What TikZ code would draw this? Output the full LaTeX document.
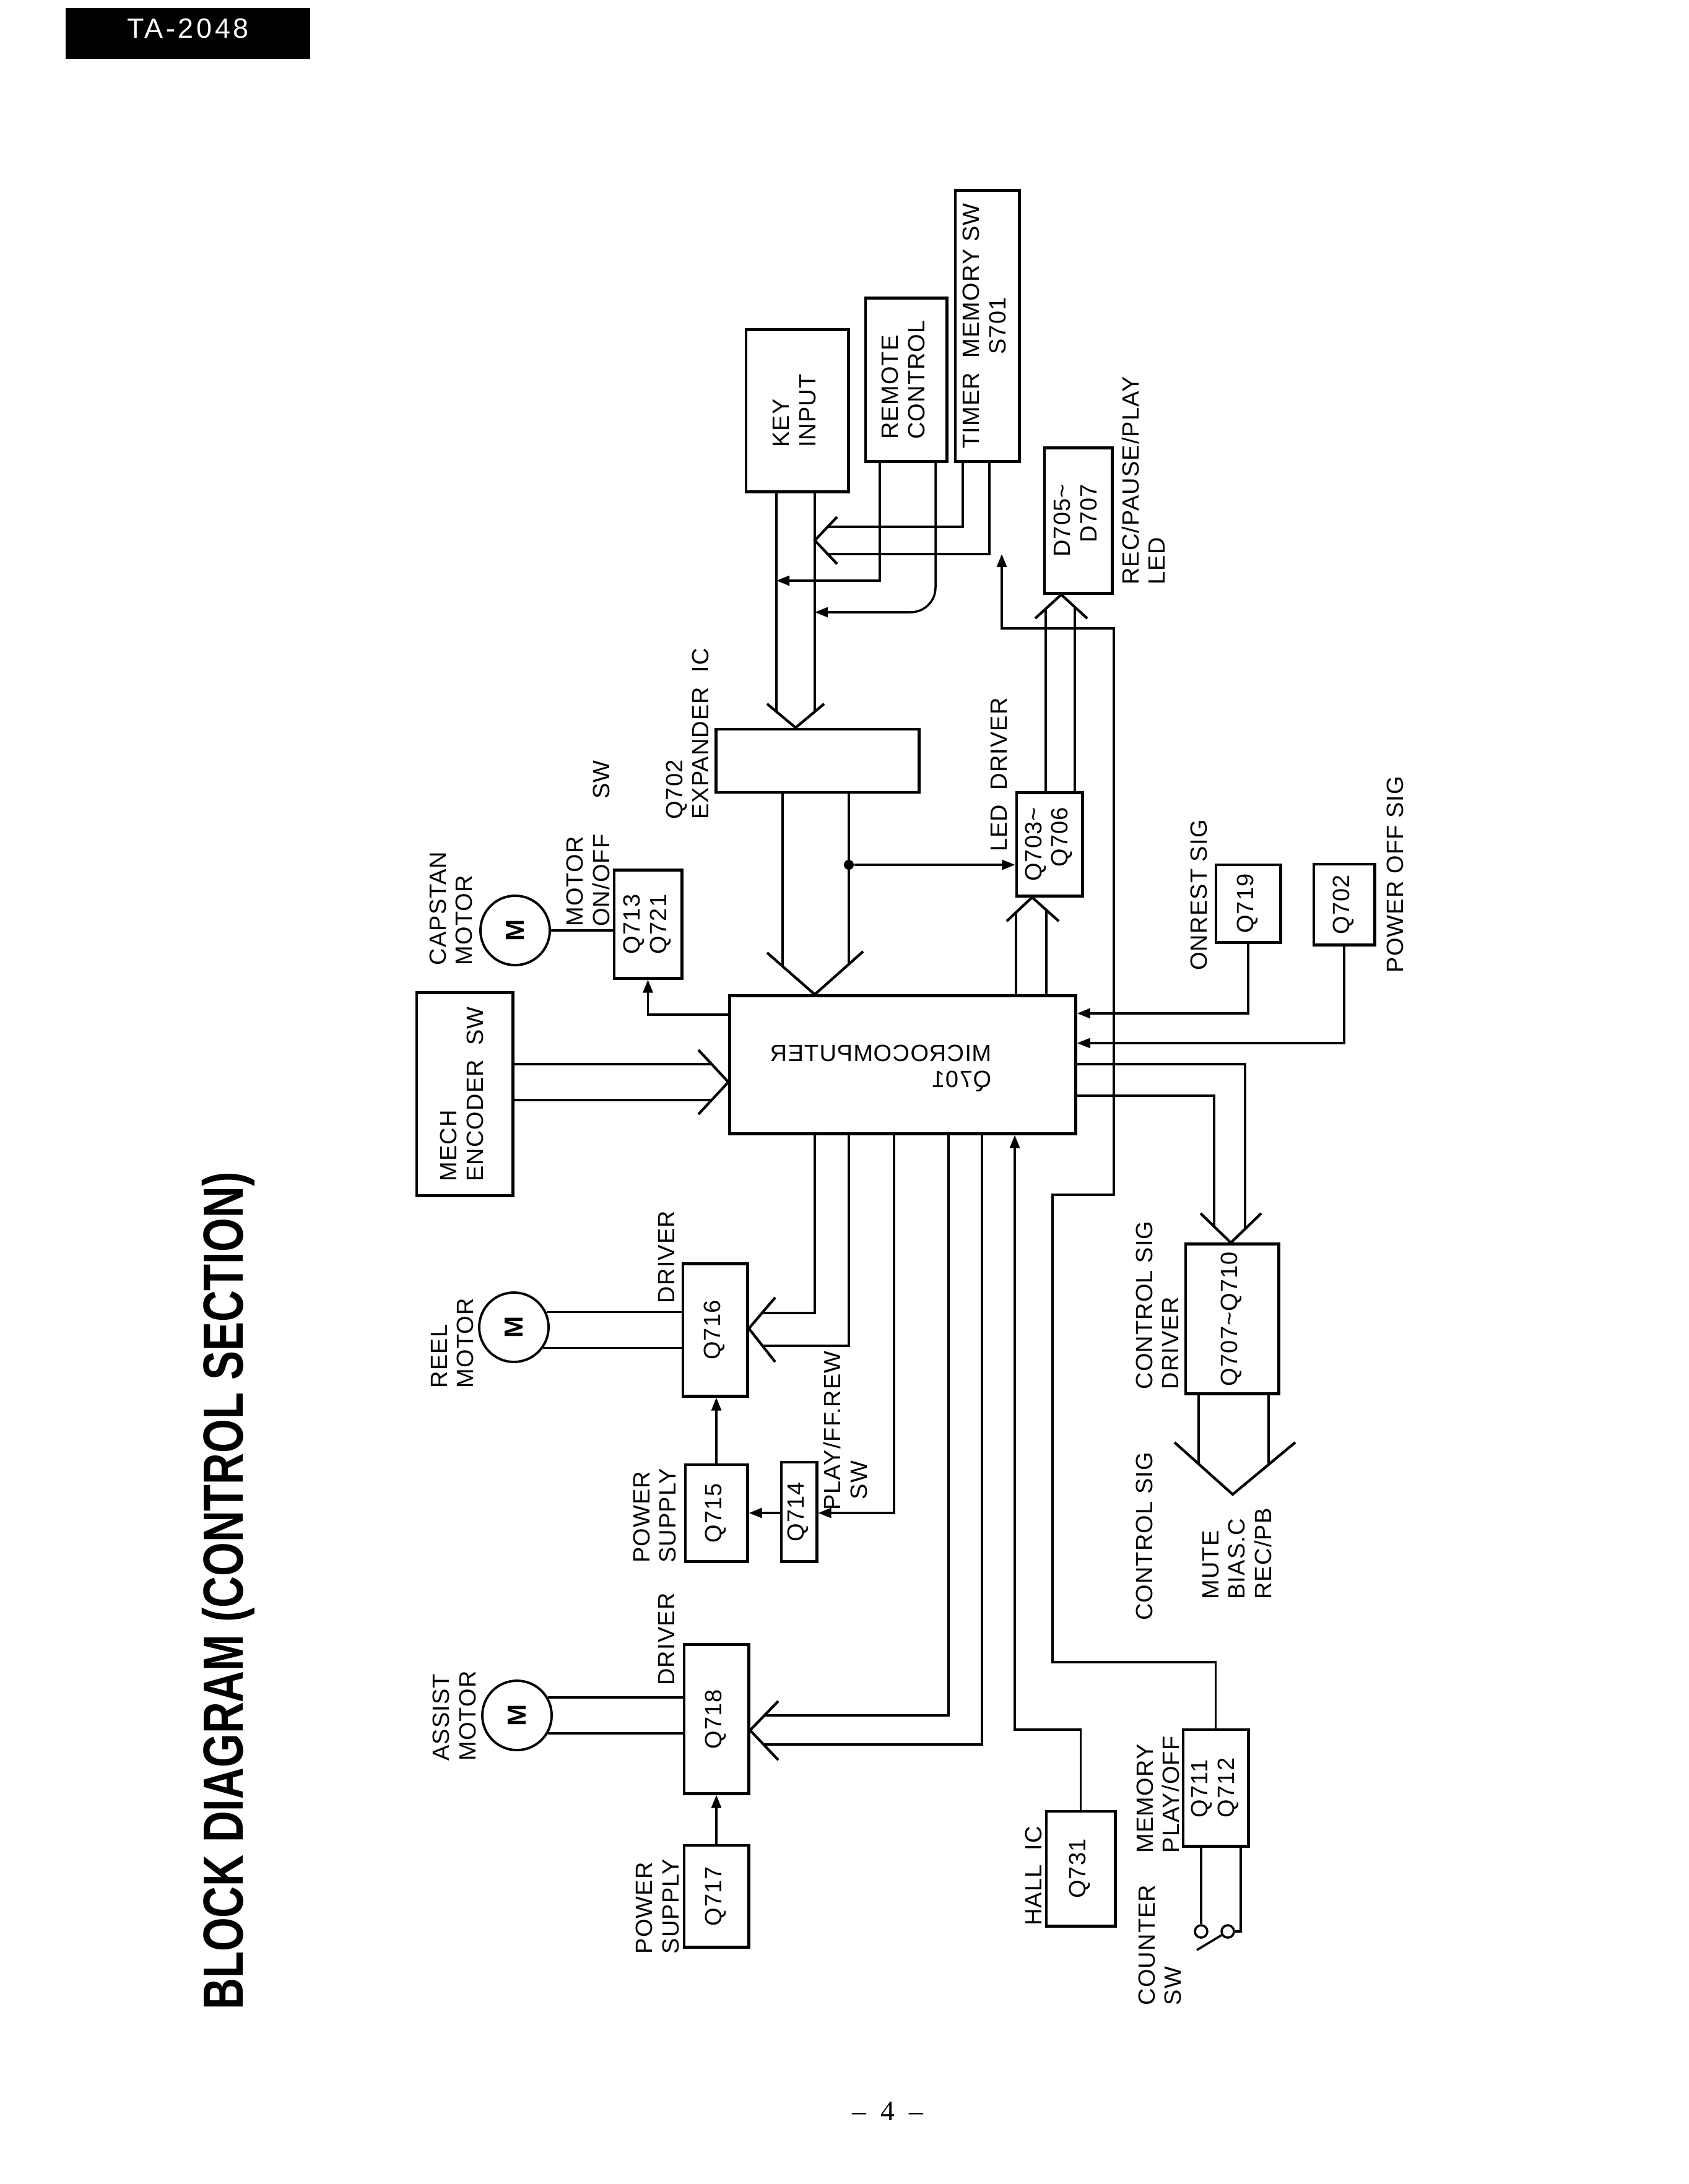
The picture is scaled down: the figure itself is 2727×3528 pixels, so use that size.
\documentclass[tikz,border=0pt]{standalone}
\usepackage{fontspec}
\usepackage{graphicx}
\setmainfont{Liberation Serif}
\newfontfamily\lblfont[LetterSpace=3]{Liberation Sans}
\newfontfamily\hdrfont[LetterSpace=10]{Liberation Sans}
\newfontfamily\ttlfont{Liberation Sans}
\usetikzlibrary{arrows.meta}

\newcommand{\vtext}[2][l]{\rotatebox{90}{\begin{tabular}{@{}#1@{}}#2\end{tabular}}}

\tikzset{
  box/.style={draw, line width=1.4pt, inner sep=0pt, font=\lblfont\fontsize{10.8}{12}\selectfont},
  lbl/.style={rotate=90, inner sep=0pt, align=left, font=\lblfont\fontsize{10.8}{12}\selectfont},
  wire/.style={line width=1pt},
  chev/.style={line width=1.2pt},
  motor/.style={circle, draw, line width=1.1pt, minimum size=1.12cm, inner sep=0pt, font=\lblfont\bfseries\fontsize{12}{12}\selectfont},
  contact/.style={circle, draw, line width=1pt, minimum size=0.2cm, inner sep=0pt},
  jdot/.style={circle, fill, inner sep=0pt, minimum size=0.16cm}
}

\begin{document}
\begin{tikzpicture}[x=0.01cm, y=-0.01cm, >={Triangle[length=6pt,width=4.5pt]}]
        \useasboundingbox (0,0) rectangle (2727,3528);

        % Page header, title and number
        \node[fill=black, text=white, font=\hdrfont\fontsize{12.8}{13}\selectfont, minimum width=3.95cm, minimum height=0.82cm, text height=0.33cm, text depth=0.18cm, inner sep=0pt] (model) at (303.5,54) {TA-2048};
        \node[rotate=90, inner sep=0pt, font=\ttlfont\bfseries\fontsize{26}{30}\selectfont] (title) at (369,2570) {\scalebox{0.77}[1]{BLOCK DIAGRAM (CONTROL SECTION)}};
        \node[font=\fontsize{13}{15}\selectfont, inner sep=0pt] (pageno) at (1434,3410) {--\enspace4\enspace--};

        % Input blocks
        \node[box, minimum width=1.65cm, minimum height=2.61cm] (key) at (1287.5,663.5) {\vtext{KEY\\INPUT}};
        \node[box, minimum width=1.31cm, minimum height=2.63cm] (remote) at (1463.5,613.5) {\vtext{REMOTE\\CONTROL}};
        \node[box, minimum width=1.03cm, minimum height=4.37cm] (timer) at (1594.5,526.5) {\vtext[c]{TIMER\ \ MEMORY SW\\S701}};
        \node[box, minimum width=1.09cm, minimum height=2.34cm] (leds) at (1741.5,841) {\vtext[r]{D705\textasciitilde\\D707}};

        % Expander, LED driver, microcomputer
        \node[box, minimum width=3.27cm, minimum height=1.02cm] (expander) at (1320.5,1229) {};
        \node[box, minimum width=1.06cm, minimum height=1.66cm] (leddrv) at (1695,1364) {\vtext[r]{Q703\textasciitilde\\Q706}};
        \node[box, minimum width=5.58cm, minimum height=2.22cm] (mcu) at (1458,1720) {};
        \node[xscale=-1, align=left, inner sep=0pt, font=\lblfont\fontsize{10.8}{12}\selectfont] (mcutext) at (1423,1726) {MICROCOMPUTER\\Q701};
        \node[box, minimum width=1.04cm, minimum height=1.25cm] (onrest) at (2016,1459.5) {\vtext{Q719}};
        \node[box, minimum width=0.98cm, minimum height=1.30cm] (poweroff) at (2171,1461) {\vtext{Q702}};

        % Motor side
        \node[box, minimum width=1.09cm, minimum height=1.74cm] (capdrv) at (1046.5,1493) {\vtext{Q713\\Q721}};
        \node[box, minimum width=1.55cm, minimum height=3.27cm] (mech) at (750.5,1767.5) {\vtext{MECH\\ENCODER\ \ SW}};
        \node[box, minimum width=1.04cm, minimum height=2.13cm] (reeldrv) at (1155,2148.5) {\vtext{Q716}};
        \node[box, minimum width=1.00cm, minimum height=1.56cm] (reelps) at (1157,2444) {\vtext{Q715}};
        \node[box, minimum width=0.57cm, minimum height=1.60cm] (playsw) at (1290.5,2442) {\vtext{Q714}};
        \node[box, minimum width=1.04cm, minimum height=2.40cm] (assistdrv) at (1157,2777) {\vtext{Q718}};
        \node[box, minimum width=1.04cm, minimum height=1.64cm] (assistps) at (1157,3063) {\vtext{Q717}};
        \node[motor] (capstan) at (832,1503) {\rotatebox{90}{M}};
        \node[motor] (reel) at (830,2144) {\rotatebox{90}{M}};
        \node[motor] (assist) at (835,2771) {\rotatebox{90}{M}};

        % Control signal side
        \node[box, minimum width=1.50cm, minimum height=2.41cm] (ctrldrv) at (1990,2130.5) {\vtext{Q707\textasciitilde Q710}};
        \node[box, minimum width=1.11cm, minimum height=1.85cm] (hall) at (1745.5,3018.5) {\vtext{Q731}};
        \node[box, minimum width=1.05cm, minimum height=1.88cm] (memory) at (1963.5,2888) {\vtext{Q711\\Q712}};
        \node[contact] (cnt1) at (1940,3120) {};
        \node[contact] (cnt2) at (1983,3120) {};
        \coordinate (blade) at (1933,3150);
        \node[jdot] (jct) at (1371,1397) {};

        % Labels
        \node[lbl] (capstanlbl) at (728.5,1467.5) {CAPSTAN\\MOTOR};
        \node[lbl] (motorswlbl) at (950,1362.5) {MOTOR\\ON/OFF\hspace{1.5em}SW};
        \node[lbl] (reellbl) at (730.5,2169.5) {REEL\\MOTOR};
        \node[lbl] (drvlbl1) at (1076.5,2030.5) {DRIVER};
        \node[lbl] (pslbl1) at (1057.5,2448.5) {POWER\\SUPPLY};
        \node[lbl] (playswlbl) at (1365.5,2311) {PLAY/FF.REW\\\hspace*{5pt}SW};
        \node[lbl] (assistlbl) at (734,2772) {ASSIST\\MOTOR};
        \node[lbl] (drvlbl2) at (1076.5,2648) {DRIVER};
        \node[lbl] (pslbl2) at (1062,3080) {POWER\\SUPPLY};
        \node[lbl] (explbl) at (1110.5,1185.5) {Q702\\EXPANDER\ \ IC};
        \node[lbl] (leddrvlbl) at (1613.5,1251.5) {LED\ \ DRIVER};
        \node[lbl] (ledlbl) at (1846.5,776.5) {REC/PAUSE/PLAY\\LED};
        \node[lbl] (onrestlbl) at (1936,1446) {ONREST SIG};
        \node[lbl] (powerofflbl) at (2253,1412.5) {POWER OFF SIG};
        \node[lbl] (ctrldrvlbl) at (1869,2108.5) {CONTROL SIG\\DRIVER};
        \node[lbl] (ctrlsiglbl) at (1848.5,2482) {CONTROL SIG};
        \node[lbl] (mutelbl) at (1998,2510) {MUTE\\BIAS.C\\REC/PB};
        \node[lbl] (halllbl) at (1669,3030.5) {HALL\ \ IC};
        \node[lbl] (memlbl) at (1870,2899) {MEMORY\\PLAY/OFF};
        \node[lbl] (counterlbl) at (1873.5,3142) {COUNTER\\SW};

        % Key input, remote control and timer into expander
        \draw[wire] (key.south -| 1254,0) -- (1254,1150);
        \draw[wire] (key.south -| 1316,0) -- (1316,1150);
        \draw[chev] (1239,1137) -- (expander.north -| 1285,0) -- (1331,1137);
        \draw[wire,->] (remote.south -| 1421,0) |- (1254,938);
        \draw[wire,->,rounded corners=0.4cm] (remote.south -| 1511,0) |- (1316,989);
        \draw[wire] (timer.south -| 1555,0) |- (1337,851);
        \draw[wire] (timer.south -| 1598,0) |- (1337,895);
        \draw[chev] (1352,835) -- (1316,873) -- (1352,911);

        % Expander to microcomputer and LED driver
        \draw[wire] (expander.south -| 1264,0) -- (1264,1561);
        \draw[wire] (expander.south -| 1371,0) -- (1371,1558);
        \draw[chev] (1239,1539) -- (mcu.north -| 1316,0) -- (1394,1537);
        \draw[wire,->] (jct) -- (jct -| leddrv.west);
        \draw[wire] (mcu.north -| 1641,0) -- (1641,1473);
        \draw[wire] (mcu.north -| 1690,0) -- (1690,1470);
        \draw[chev] (1626,1488) -- (leddrv.south -| 1667,0) -- (1710,1488);
        \draw[wire] (leddrv.north -| 1689,0) -- (1689,983);
        \draw[wire] (leddrv.north -| 1736,0) -- (1736,980);
        \draw[chev] (1672,999) -- (leds.south -| 1714,0) -- (1756,999);

        % Mech encoder and capstan motor
        \draw[wire] (mech.east |- 0,1719) -- (1150,1719);
        \draw[wire] (mech.east |- 0,1777) -- (1150,1777);
        \draw[chev] (1128,1696) -- (mcu.west |- 0,1748) -- (1128,1800);
        \draw[wire] (capstan.east) -- (capstan.east -| capdrv.west);
        \draw[wire,->] (mcu.west |- 0,1639) -| (capdrv.south);

        % Reel motor
        \draw[wire] (reel.25) -- (reel.25 -| reeldrv.west);
        \draw[wire] (reel.-35) -- (reel.-35 -| reeldrv.west);
        \draw[wire] (mcu.south -| 1316,0) |- (1229,2121);
        \draw[wire] (mcu.south -| 1371,0) |- (1232,2174);
        \draw[chev] (1252,2096) -- (reeldrv.east |- 0,2146) -- (1252,2200);
        \draw[wire,->] (reelps.north) -- (reelps.north |- reeldrv.south);
        \draw[wire,->] (playsw.west |- 0,2444) -- (reelps.east |- 0,2444);
        \draw[wire,->] (mcu.south -| 1444,0) |- (playsw.east |- 0,2444);

        % Assist motor
        \draw[wire] (assist.30) -- (assist.30 -| assistdrv.west);
        \draw[wire] (assist.-30) -- (assist.-30 -| assistdrv.west);
        \draw[wire] (mcu.south -| 1532,0) |- (1233,2771);
        \draw[wire] (mcu.south -| 1586,0) |- (1234,2818);
        \draw[chev] (1257,2748) -- (assistdrv.east |- 0,2795) -- (1257,2843);
        \draw[wire,->] (assistps.north) -- (assistps.north |- assistdrv.south);

        % Hall IC and counter memory
        \draw[wire,->] (hall.north) |- (1639,2794) -- (mcu.south -| 1639,0);
        \draw[wire,->] (memory.north) |- (1700,2685) |- (1799,1930) |- (1618,1015) -- (1618,895);
        \draw[wire] (memory.south -| 1940,0) -- (cnt1);
        \draw[wire] (memory.south -| 2004,0) |- (cnt2);
        \draw[wire] (cnt2) -- (blade);

        % Onrest, power off and control signal driver
        \draw[wire,->] (onrest.south) |- (mcu.east |- 0,1637);
        \draw[wire,->] (poweroff.south) |- (mcu.east |- 0,1685);
        \draw[wire] (mcu.east |- 0,1719) -| (2011,1985);
        \draw[wire] (mcu.east |- 0,1770) -| (1961,1980);
        \draw[chev] (1939,1960) -- (ctrldrv.north -| 1988,0) -- (2037,1960);
        \draw[wire] (ctrldrv.south -| 1936,0) -- (1936,2366);
        \draw[wire] (ctrldrv.south -| 2049,0) -- (2049,2364);
        \draw[chev] (1897,2330) -- (1991,2414) -- (2092,2330);

    \end{tikzpicture}
\end{document}
